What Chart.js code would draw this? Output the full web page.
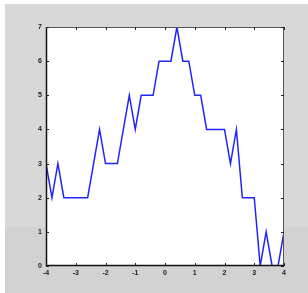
<!DOCTYPE html>
<html>
<head>
<meta charset="utf-8">
<script src="https://cdn.jsdelivr.net/npm/chart.js@4"></script>
<style>
  html, body { margin: 0; padding: 0; background: #ffffff; }
  #wrap { position: relative; width: 308px; height: 293px; overflow: hidden; }
  #bg { position: absolute; left: 5px; top: 4px; right: 0; bottom: 0; background: #d8d8d8; }
  #band { position: absolute; left: 5px; top: 227px; right: 0; bottom: 0; background: #d2d2d2; }
  canvas { position: absolute; left: 0; top: 0; }
</style>
</head>
<body>
<div id="wrap">
  <div id="bg"></div>
  <div id="band"></div>
  <canvas id="c" width="308" height="293"></canvas>
</div>
<script>
const xValues = [-4, -3.8, -3.6, -3.4, -3.2, -3, -2.8, -2.6, -2.4, -2.2, -2, -1.8, -1.6, -1.4, -1.2, -1, -0.8, -0.6, -0.4, -0.2, 0, 0.2, 0.4, 0.6, 0.8, 1, 1.2, 1.4, 1.6, 1.8, 2, 2.2, 2.4, 2.6, 2.8, 3, 3.2, 3.4, 3.6, 3.8, 4];
const yValues = [3, 2, 3, 2, 2, 2, 2, 2, 3, 4, 3, 3, 3, 4, 5, 4, 5, 5, 5, 6, 6, 6, 7, 6, 6, 5, 5, 4, 4, 4, 4, 3, 4, 2, 2, 2, 0, 1, 0, 0, 1];
const xTicks = [-4, -3, -2, -1, 0, 1, 2, 3, 4];
const yTicks = [0, 1, 2, 3, 4, 5, 6, 7];

const points = xValues.map((x, i) => ({ x: x, y: yValues[i] }));

const frame = {
  id: 'frame',
  beforeDraw(chart) {
    const a = chart.chartArea, ctx = chart.ctx;
    ctx.save();
    ctx.fillStyle = '#ffffff';
    ctx.fillRect(a.left, a.top, a.right - a.left, a.bottom - a.top);
    ctx.restore();
  },
  afterDatasetsDraw(chart) {
    const a = chart.chartArea, ctx = chart.ctx;
    const xs = chart.scales.x, ys = chart.scales.y;
    ctx.save();
    // top and right thin borders
    ctx.strokeStyle = '#555555';
    ctx.lineWidth = 1;
    ctx.beginPath();
    ctx.moveTo(a.left, a.top + 0.5); ctx.lineTo(a.right, a.top + 0.5);
    ctx.moveTo(a.right - 0.5, a.top); ctx.lineTo(a.right - 0.5, a.bottom);
    ctx.stroke();
    // left and bottom axes
    ctx.strokeStyle = '#111111';
    ctx.lineWidth = 1.5;
    ctx.beginPath();
    ctx.moveTo(a.left + 0.5, a.top); ctx.lineTo(a.left + 0.5, a.bottom);
    ctx.moveTo(a.left, a.bottom - 0.5); ctx.lineTo(a.right, a.bottom - 0.5);
    ctx.stroke();
    // inward ticks
    ctx.strokeStyle = '#222222';
    ctx.lineWidth = 1;
    const L = 3;
    ctx.beginPath();
    xTicks.forEach(v => {
      const p = Math.round(xs.getPixelForValue(v)) + 0.5;
      ctx.moveTo(p, a.bottom); ctx.lineTo(p, a.bottom - L);
      ctx.moveTo(p, a.top); ctx.lineTo(p, a.top + L);
    });
    yTicks.forEach(v => {
      const p = Math.round(ys.getPixelForValue(v)) + 0.5;
      ctx.moveTo(a.left, p); ctx.lineTo(a.left + L, p);
      ctx.moveTo(a.right, p); ctx.lineTo(a.right - L, p);
    });
    ctx.stroke();
    ctx.restore();
  }
};

new Chart(document.getElementById('c'), {
  type: 'line',
  data: {
    datasets: [{
      data: points,
      borderColor: 'rgb(35,35,255)',
      borderWidth: 1.5,
      pointRadius: 0,
      tension: 0,
      fill: false
    }]
  },
  options: {
    responsive: false,
    animation: false,
    layout: { padding: { left: 0, right: 24, top: 27, bottom: 0 } },
    plugins: { legend: { display: false }, tooltip: { enabled: false } },
    scales: {
      x: {
        type: 'linear', min: -4, max: 4,
        afterFit(s) { s.height = 27; },
        afterBuildTicks(s) { s.ticks = xTicks.map(v => ({ value: v })); },
        grid: { display: false, drawTicks: false },
        border: { display: false },
        ticks: { color: '#222', font: { family: 'Liberation Sans', size: 7, weight: 'bold' }, padding: 3, maxRotation: 0, autoSkip: false }
      },
      y: {
        type: 'linear', min: 0, max: 7,
        afterFit(s) { s.width = 46; },
        afterBuildTicks(s) { s.ticks = yTicks.map(v => ({ value: v })); },
        grid: { display: false, drawTicks: false },
        border: { display: false },
        ticks: { color: '#222', font: { family: 'Liberation Sans', size: 7, weight: 'bold' }, padding: 4, autoSkip: false }
      }
    }
  },
  plugins: [frame]
});
</script>
</body>
</html>
